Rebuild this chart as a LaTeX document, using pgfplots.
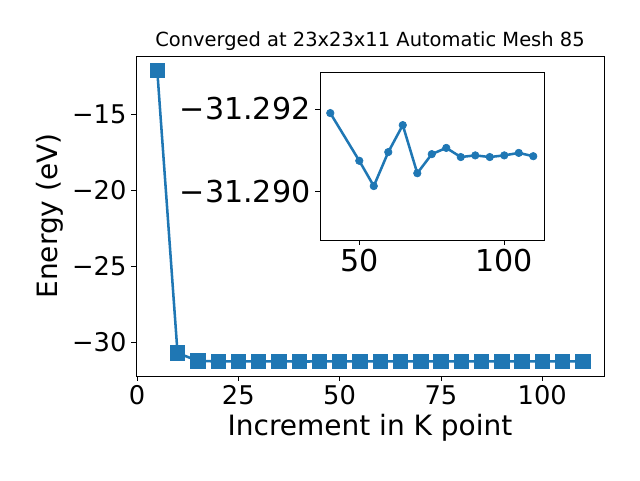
\documentclass[border=0pt]{standalone}
\usepackage{pgfplots}
\pgfplotsset{compat=1.18}
\usepackage{fontspec}
\setmainfont{DejaVu Sans}
\definecolor{C0}{HTML}{1F77B4}
\begin{document}
\begin{tikzpicture}
\useasboundingbox (-102pt,-78pt) rectangle (378pt,282pt);
\begin{axis}[
  at={(0pt,0pt)}, anchor=south west,
  scale only axis, width=351pt, height=240pt,
  xmin=-0.25, xmax=115.25, ymin=-32.25, ymax=-11.13,
  xtick={0,25,50,75,100},
  ytick={-30,-25,-20,-15},
  yticklabels={−30,−25,−20,−15},
  tick align=outside, tick pos=left,
  major tick length=3.6pt,
  every tick/.style={black, line width=0.6pt},
  axis line style={line width=0.6pt},
  tick label style={font=\fontsize{19.3}{23}\selectfont},
  /pgf/number format/assume math mode=true,
  label style={font=\fontsize{21}{25}\selectfont},
  xlabel={Increment in K point},
  ylabel={Energy (eV)},
  title={Converged at 23x23x11 Automatic Mesh 85},
  title style={font=\fontsize{14.6}{17}\selectfont, yshift=-5.5pt},
]
\addplot[C0, line width=1.9pt, mark=square*, mark size=5.4pt, mark options={fill=C0, draw=C0, line width=0.5pt}] coordinates {
(5,-12.09) (10,-30.73) (15,-31.25) (20,-31.290) (25,-31.2905) (30,-31.2908) (35,-31.2910)
(40,-31.2919) (45,-31.2913) (50,-31.29075) (55,-31.29014) (60,-31.29096) (65,-31.29161)
(70,-31.29045) (75,-31.29091) (80,-31.29106) (85,-31.29084) (90,-31.29088) (95,-31.29084)
(100,-31.29088) (105,-31.29094) (110,-31.29086)
};
\end{axis}
\begin{axis}[
  at={(138pt,102pt)}, anchor=south west,
  scale only axis, width=168pt, height=126pt,
  xmin=36.45, xmax=113.7, ymin=-31.29289, ymax=-31.28884,
  y dir=reverse,
  xtick={50,100},
  ytick={-31.292,-31.290},
  yticklabels={−31.292,−31.290},
  tick align=outside, tick pos=left,
  major tick length=3.6pt,
  every tick/.style={black, line width=0.6pt},
  axis line style={line width=0.6pt},
  tick label style={font=\fontsize{22.6}{27}\selectfont},
  /pgf/number format/assume math mode=true,
  scaled y ticks=false,
]
\addplot[C0, line width=1.9pt, mark=*, mark size=2.8pt, mark options={fill=C0, draw=C0, line width=0.5pt}] coordinates {
(40,-31.2919) (50,-31.29075) (55,-31.29014) (60,-31.29096) (65,-31.29161)
(70,-31.29045) (75,-31.29091) (80,-31.29106) (85,-31.29084) (90,-31.29088) (95,-31.29084)
(100,-31.29088) (105,-31.29094) (110,-31.29086)
};
\end{axis}
\end{tikzpicture}
\end{document}
